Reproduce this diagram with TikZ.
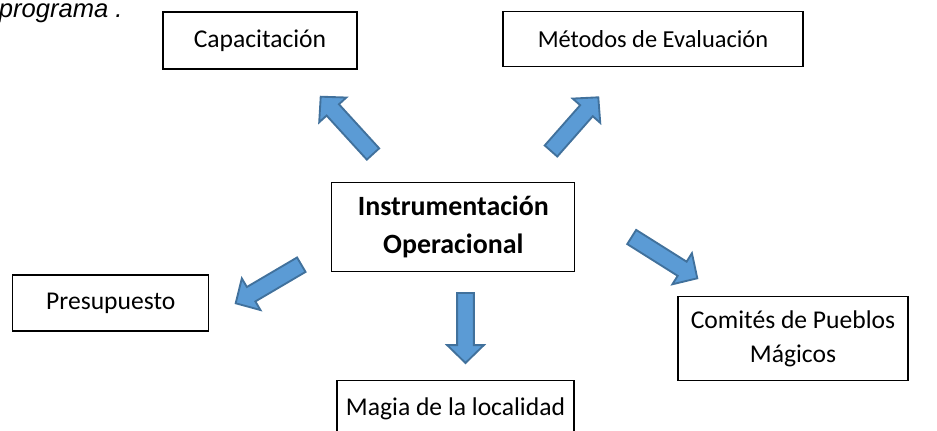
\documentclass[tikz,border=0pt]{standalone}
\usepackage{fontspec}
\setmainfont{Carlito}
\newfontfamily\arialfont{Liberation Sans}
\usepackage{xcolor}
\usetikzlibrary{positioning, calc}

\definecolor{arrowfill}{HTML}{5B9BD5}
\definecolor{arrowline}{HTML}{41719C}

\tikzset{
  box/.style={draw, line width=0.5pt, inner sep=0pt, align=center,
    font=\fontsize{11}{14.6}\selectfont},
  mainbox/.style={box, font=\bfseries\fontsize{12}{16.3}\selectfont},
  fatarrow/.style={fill=arrowfill, draw=arrowline, line width=0.8pt, line join=miter},
}

% block arrow from tail coordinate #1 to tip coordinate #2
\newcommand{\fatarrow}[2]{%
  \coordinate (hb) at ($(#2)!7.7pt!(#1)$);
  \draw[fatarrow] ($(#1)!3.6pt!90:(#2)$) -- ($(hb)!3.6pt!90:(#2)$)
    -- ($(hb)!7.9pt!90:(#2)$) -- (#2) -- ($(hb)!7.9pt!-90:(#2)$)
    -- ($(hb)!3.6pt!-90:(#2)$) -- ($(#1)!3.6pt!-90:(#2)$) -- cycle;
}

\begin{document}
\begin{tikzpicture}[x=0.43pt, y=-0.43pt]

    \useasboundingbox (0,0) rectangle (937,431);

    % --- Caption fragment ---
    \node[anchor=base east, inner sep=0pt, font=\arialfont\itshape\fontsize{11}{13}\selectfont]
      (prog) at (123,17.5) {programa .};

    % --- Boxes ---
    \node[box, minimum width=194*0.43pt, minimum height=57*0.43pt] (cap) at (260,40.5) {Capacitación};
    \node[box, minimum width=300*0.43pt, minimum height=55*0.43pt, font=\fontsize{10.5}{13}\selectfont]
      (metodos) at (653,39.3) {Métodos de Evaluación};
    \node[mainbox, minimum width=243*0.43pt, minimum height=89*0.43pt] (instr) at (453.3,227.2) {Instrumentación\\Operacional};
    \node[box, minimum width=196*0.43pt, minimum height=56*0.43pt] (presup) at (110.8,303) {Presupuesto};
    \node[box, minimum width=230*0.43pt, minimum height=84*0.43pt] (comites) at (793,338.8) {Comités de Pueblos\\Mágicos};
    \node[box, minimum width=237*0.43pt, minimum height=56*0.43pt] (magia) at (455.5,408.7) {Magia de la localidad};

    % --- Arrow ends (tail, tip) ---
    \coordinate (capT) at (373,154);
    \coordinate (capH) at (320.7,96.7);
    \coordinate (metT) at (551,151);
    \coordinate (metH) at (598.3,97.3);
    \coordinate (preT) at (301.3,264.7);
    \coordinate (preH) at (235.7,303.3);
    \coordinate (magT) at (465.5,293);
    \coordinate (magH) at (465.5,363);
    \coordinate (comT) at (631.7,237);
    \coordinate (comH) at (697.3,278.3);

    % --- Arrows ---
    \fatarrow{capT}{capH}
    \fatarrow{metT}{metH}
    \fatarrow{preT}{preH}
    \fatarrow{magT}{magH}
    \fatarrow{comT}{comH}

\end{tikzpicture}
\end{document}
